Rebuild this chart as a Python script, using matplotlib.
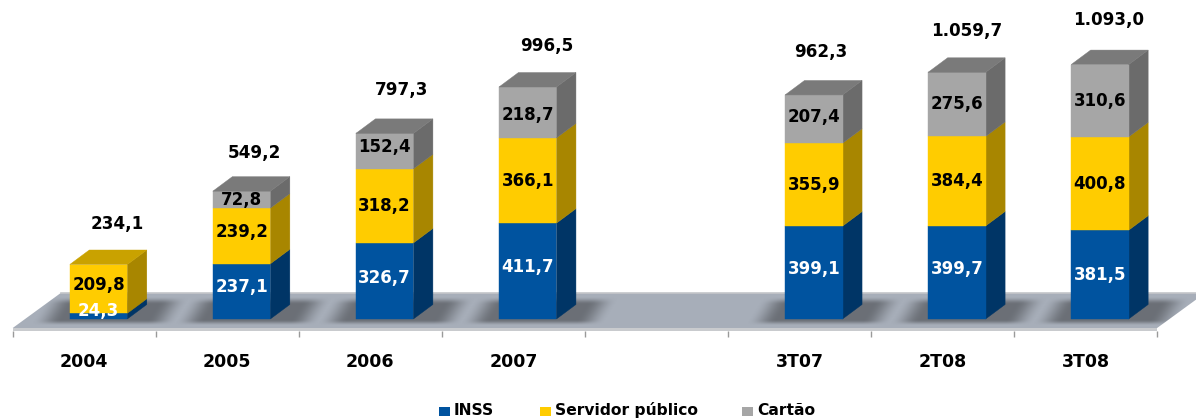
import numpy as np
import matplotlib
matplotlib.use('Agg')
import matplotlib.pyplot as plt
from matplotlib.patches import Polygon, Rectangle

categories = ['2004', '2005', '2006', '2007', '', '3T07', '2T08', '3T08']
inss = [24.3, 237.1, 326.7, 411.7, None, 399.1, 399.7, 381.5]
servidor = [209.8, 239.2, 318.2, 366.1, None, 355.9, 384.4, 400.8]
cartao = [0, 72.8, 152.4, 218.7, None, 207.4, 275.6, 310.6]
totals = ['234,1', '549,2', '797,3', '996,5', '', '962,3', '1.059,7', '1.093,0']
total_vals = [234.1, 549.2, 797.3, 996.5, None, 962.3, 1059.7, 1093.0]
series_names = ['INSS', 'Servidor público', 'Cartão']

# front, side, top colour of each series
colors = [('#00539f', '#003566', '#004a8c'),
          ('#ffcc00', '#a88600', '#c9a200'),
          ('#a6a6a6', '#6b6b6b', '#7a7a7a')]
txt_colors = ['white', 'black', 'black']

W, H = 1196, 419
px_x = 143.05     # pixels per category
px_y = 0.2328     # pixels per value unit
x0_px = 84.25     # pixel of first category
y0_px = 319.0     # pixel of value 0

fig = plt.figure(figsize=(W / 100, H / 100), dpi=100)
ax = fig.add_axes([0, 0, 1, 1])
xlim = (-x0_px / px_x, (W - x0_px) / px_x)
ylim = (-(H - y0_px) / px_y, y0_px / px_y)


def dx(p):
    return p / px_x


def dy(p):
    return p / px_y


depth_x, depth_y = dx(19.5), dy(14.5)
bar_w = dx(57.5)
bar_off = dx(14.3)

# floor
fl, fr = -0.5, 7.5
front, back = dy(-9), dy(26)
shear = dx(48)
ax.add_patch(Polygon([(fl, front), (fr, front), (fr, front - dy(3)), (fl, front - dy(3))],
                     fc='#c9cbce', ec='none', zorder=1))
floor = Polygon([(fl, front), (fr, front), (fr + shear, back), (fl + shear, back)],
                fc='#a7aeb9', ec='none', zorder=1.5)
ax.add_patch(floor)
ax.plot([fl + shear, fr + shear], [back, back], color='#c4c6c9', lw=1.2, zorder=1.6)


def soft(t):
    t = np.clip(t, 0, 1)
    return t * t * (3 - 2 * t)


# soft shadows under the bars, worked out in pixels around each bar
for i, c in enumerate(categories):
    if not c:
        continue
    cx = x0_px + i * px_x + 14.3
    xs = np.arange(cx - 75, cx + 100)
    ys = np.arange(-8, 24)            # pixels above the bar base
    X, Y = np.meshgrid(xs, ys)
    Xs = X - Y * 0.6
    a = soft((Xs - (cx - 66)) / 30) * soft(((cx + 80) - Xs) / 30)
    a = a * soft((Y + 7) / 6) * soft((23 - Y) / 8) * 0.66
    img = np.zeros(a.shape + (4,))
    img[..., :3] = (0.30, 0.31, 0.33)
    img[..., 3] = a
    im = ax.imshow(img, origin='lower', aspect='auto', interpolation='bilinear', zorder=2,
                   extent=((xs[0] - x0_px) / px_x, (xs[-1] - x0_px) / px_x, dy(ys[0]), dy(ys[-1])))
    im.set_clip_path(floor)

# bars
label_nudge = {(0, 0): 5.5, (0, 1): 4, (1, 0): 4.5, (1, 1): 3.5, (2, 0): 3, (2, 2): 4,
               (3, 0): 4, (3, 2): -2.5, (5, 0): 3.5, (5, 2): 2, (6, 0): 3}
for i, c in enumerate(categories):
    if not c:
        continue
    left = i + bar_off - bar_w / 2
    right = left + bar_w
    bottom = 0
    for j, vals in enumerate([inss, servidor, cartao]):
        v = vals[i]
        if not v:
            continue
        top = bottom + v
        f, s, t = colors[j]
        ax.add_patch(Polygon([(right, bottom), (right + depth_x, bottom + depth_y),
                              (right + depth_x, top + depth_y), (right, top)],
                             fc=s, ec=s, lw=0.3, zorder=3 + j * 0.1))
        ax.add_patch(Rectangle((left, bottom), bar_w, v, fc=f, ec=f, lw=0.3, zorder=4))
        ymid = bottom + v / 2 + dy(label_nudge.get((i, j), 0))
        ax.text(left + bar_w / 2, ymid, str(v).replace('.', ','), color=txt_colors[j],
                ha='center', va='center', fontsize=12, fontweight='bold', zorder=6)
        bottom = top
    ax.add_patch(Polygon([(left, bottom), (right, bottom),
                          (right + depth_x, bottom + depth_y), (left + depth_x, bottom + depth_y)],
                         fc=t, ec=t, lw=0.3, zorder=5))

# totals above the bars
total_dx = [19, 13, 17, 19, 0, 7, 10, 9]
total_dy = [40.5, 38.5, 43, 41, 0, 43, 41, 45]
for i, c in enumerate(categories):
    if not c:
        continue
    ax.text(i + dx(14.3 + total_dx[i]), total_vals[i] + dy(total_dy[i]), totals[i],
            ha='center', va='center', fontsize=12.1, fontweight='bold', color='black', zorder=6)

# axis
ax.set_xlim(*xlim)
ax.set_ylim(*ylim)
ax.patch.set_visible(False)
for sp in ax.spines.values():
    sp.set_visible(False)
ax.spines['bottom'].set_position(('data', front - dy(3)))
ax.set_yticks([])
ax.set_xticks(range(len(categories)))
ax.set_xticklabels(categories, fontsize=12.5, fontweight='bold')
ax.tick_params(axis='x', which='major', length=0, pad=16)
ax.set_xticks([k - 0.5 for k in range(len(categories) + 1)], minor=True)
ax.tick_params(axis='x', which='minor', length=4.5, width=1, color='#9a9a9a')

# legend
marker_px = [439, 540, 742]
for name, mx, col in zip(series_names, marker_px, colors):
    fig.patches.append(Rectangle((mx / W, 1 - 415.5 / H), 11 / W, 8.5 / H, transform=fig.transFigure,
                                 fc=col[0], ec='none'))
    fig.text((mx + 15) / W, 1 - 415 / H, name, ha='left', va='baseline',
             fontsize=11.2, fontweight='bold', color='black')

fig.savefig('out.png', dpi=100)
